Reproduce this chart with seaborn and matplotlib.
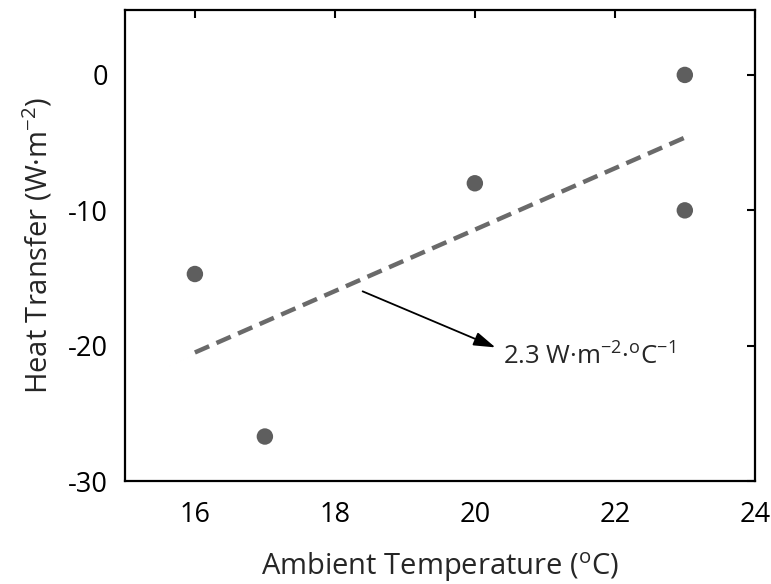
import matplotlib
matplotlib.use("Agg")
import matplotlib.pyplot as plt
import seaborn as sns
import numpy as np
import pandas as pd

# Data
temperature = [16, 17, 20, 23, 23]
heat_transfer = [-14.7, -26.7, -8.0, 0.0, -10.0]
x_ticks = [16, 18, 20, 22, 24]
y_ticks = [0, -10, -20, -30]

sns.set_theme(style="white")
plt.rcParams['font.family'] = ['Open Sans', 'DejaVu Sans']
plt.rcParams['mathtext.fontset'] = 'custom'
plt.rcParams['mathtext.rm'] = 'Open Sans'
plt.rcParams['mathtext.it'] = 'Open Sans'
plt.rcParams['mathtext.default'] = 'regular'
plt.rcParams['axes.unicode_minus'] = False

df = pd.DataFrame({"T": temperature, "Q": heat_transfer})

fig = plt.figure(figsize=(7.71, 5.84), dpi=100)
ax = fig.add_axes([0.162, 0.176, 0.817, 0.807])

sns.regplot(data=df, x="T", y="Q", ax=ax, ci=None, truncate=True,
            scatter_kws=dict(s=140, color="#5e5e5e", edgecolor="none", alpha=1, zorder=3),
            line_kws=dict(color="#6a6a6a", lw=3.2, ls=(0, (3.5, 1.8))))

ax.set_xlim(15, 24)
ax.set_ylim(-30, 4.8)
ax.set_xticks(x_ticks)
ax.set_yticks(y_ticks)
ax.tick_params(direction="in", length=6, width=1.5, top=True, right=True,
               labelsize=19.5, colors="black", pad=12)
ax.tick_params(axis="x", pad=14)
for s in ax.spines.values():
    s.set_linewidth(1.6)
    s.set_color("black")

ax.set_xlabel("Ambient Temperature ($^{o}$C)", fontsize=21, labelpad=16)
ax.set_ylabel("Heat Transfer (W·m$^{-2}$)", fontsize=21, labelpad=10)

ax.annotate("", xy=(20.33, -20.2), xytext=(18.36, -15.9),
            arrowprops=dict(arrowstyle="-|>,head_length=1.1,head_width=0.35",
                            color="black", lw=1.3))
ax.text(20.4, -20.8, "2.3 W·m$^{-2}$·$^{o}$C$^{-1}$", fontsize=18.5,
        ha="left", va="center")

fig.savefig("out.png", dpi=100)
